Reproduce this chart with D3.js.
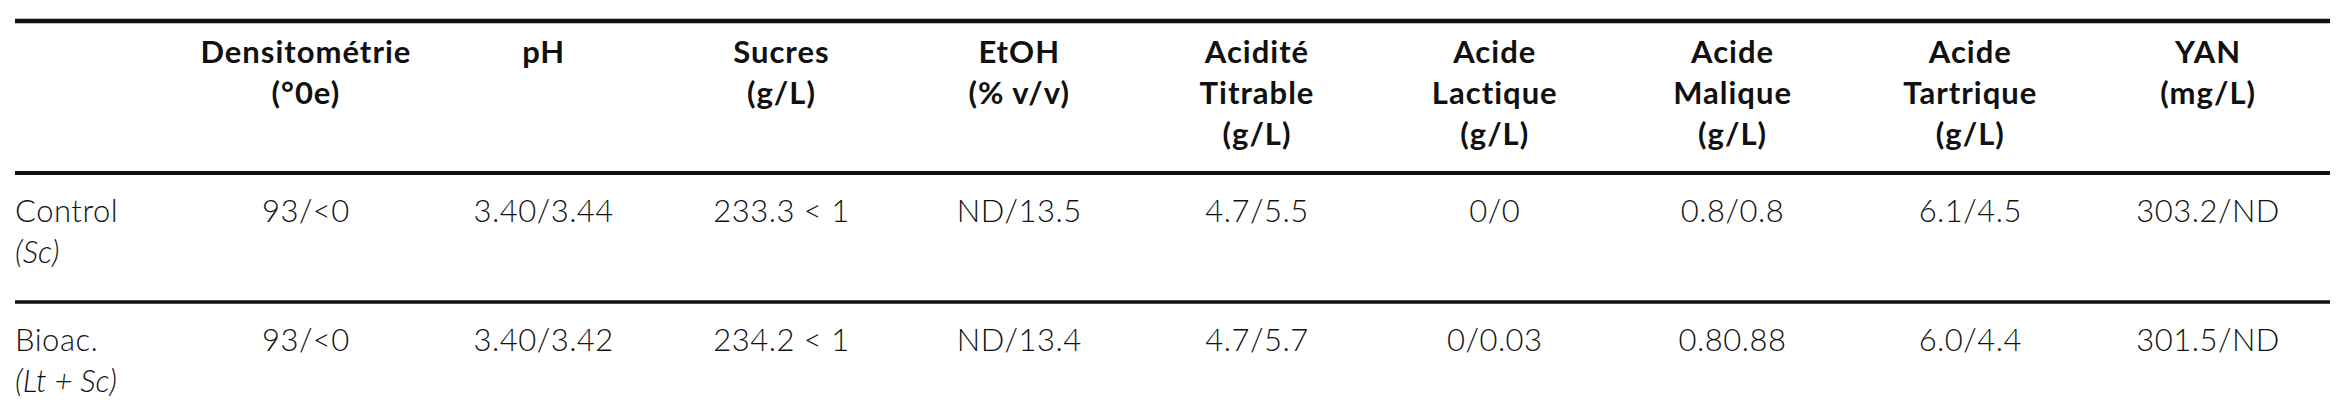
<!DOCTYPE html>
<html>
<head>
<meta charset="utf-8">
<script src="https://cdn.jsdelivr.net/npm/d3@7"></script>
<style>
  body { margin: 0; background: #fff; }
  text { font-family: Lato, "Open Sans", sans-serif; fill: #111; }
</style>
</head>
<body>
<div id="table"></div>
<script>
// table content
const headers = [
  ['Densitométrie', '(°0e)'],
  ['pH'],
  ['Sucres', '(g/L)'],
  ['EtOH', '(% v/v)'],
  ['Acidité', 'Titrable', '(g/L)'],
  ['Acide', 'Lactique', '(g/L)'],
  ['Acide', 'Malique', '(g/L)'],
  ['Acide', 'Tartrique', '(g/L)'],
  ['YAN', '(mg/L)']
];
const rowLabels = ['Control', 'Bioac.'];
const rowSubLabels = ['(Sc)', '(Lt + Sc)'];
const controlValues = ['93/<0', '3.40/3.44', '233.3 < 1', 'ND/13.5', '4.7/5.5', '0/0', '0.8/0.8', '6.1/4.5', '303.2/ND'];
const bioacValues = ['93/<0', '3.40/3.42', '234.2 < 1', 'ND/13.4', '4.7/5.7', '0/0.03', '0.80.88', '6.0/4.4', '301.5/ND'];

const width = 2338;
const height = 408;
const left = 15, right = 2330;

const svg = d3.select('#table')
  .append('svg')
  .attr('width', width)
  .attr('height', height);

// column centres
const xScale = d3.scaleBand()
  .domain(d3.range(headers.length))
  .range([187, 2327]);
const cx = i => xScale(i) + xScale.bandwidth() / 2;

// horizontal rules
const rules = [{ y: 21, w: 4.5 }, { y: 173, w: 4 }, { y: 302, w: 3.5 }];
svg.selectAll('.rule')
  .data(rules)
  .enter()
  .append('line')
  .attr('class', 'rule')
  .attr('x1', left)
  .attr('x2', right)
  .attr('y1', d => d.y)
  .attr('y2', d => d.y)
  .attr('stroke', '#111')
  .attr('stroke-width', d => d.w);

// header
const headerLineY = [63, 104, 145];
headers.forEach((lines, i) => {
  svg.append('text')
    .attr('x', cx(i))
    .attr('text-anchor', 'middle')
    .style('font-size', '31px')
    .style('font-weight', 'bold')
    .style('letter-spacing', '1px')
    .selectAll('tspan')
    .data(lines)
    .enter()
    .append('tspan')
    .attr('x', cx(i))
    .attr('y', (d, j) => headerLineY[j])
    .text(d => d);
});

// body rows
const rows = [
  { label: rowLabels[0], sub: rowSubLabels[0], values: controlValues, y: 222 },
  { label: rowLabels[1], sub: rowSubLabels[1], values: bioacValues, y: 351 }
];

rows.forEach(r => {
  svg.append('text')
    .attr('x', left)
    .attr('y', r.y)
    .style('font-size', '31px')
    .style('font-weight', 300)
    .style('letter-spacing', '0.5px')
    .text(r.label);
  svg.append('text')
    .attr('x', left)
    .attr('y', r.y + 41)
    .style('font-size', '31px')
    .style('font-weight', 300)
    .style('font-style', 'italic')
    .text(r.sub);
  svg.selectAll(null)
    .data(r.values)
    .enter()
    .append('text')
    .attr('x', (d, i) => cx(i))
    .attr('y', r.y)
    .attr('text-anchor', 'middle')
    .style('font-size', '31px')
    .style('font-weight', 300)
    .style('letter-spacing', '0.5px')
    .text(d => d);
});
</script>
</body>
</html>
